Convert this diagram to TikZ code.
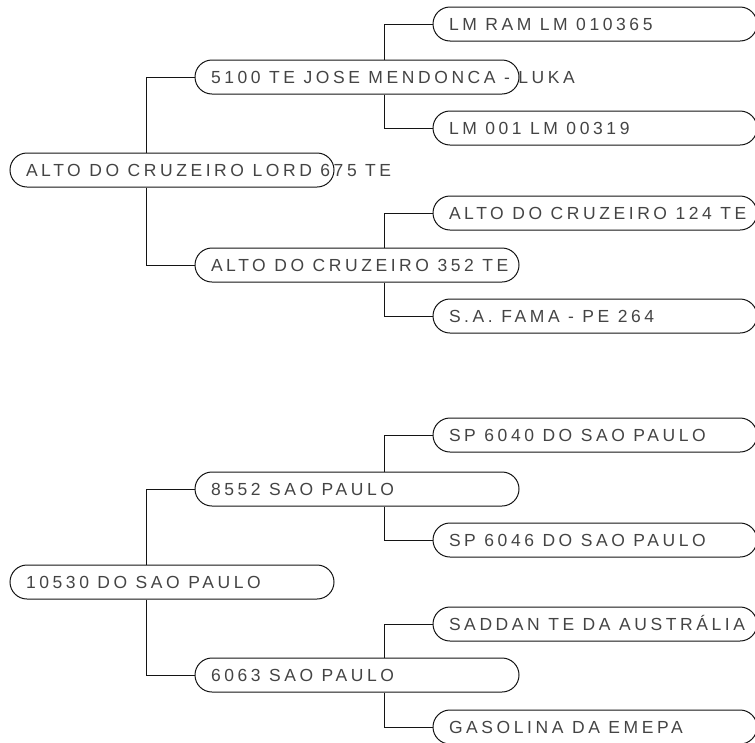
\documentclass[tikz,border=0pt]{standalone}
\usepackage{fontspec}
\setmainfont{Liberation Sans}
\newfontfamily\pedfont[LetterSpace=20.5]{Liberation Sans}
\usepackage{xcolor}
\usetikzlibrary{positioning}
\definecolor{pedtext}{RGB}{68,68,68}
\definecolor{pedline}{RGB}{20,20,20}
\newcommand{\pedname}[1]{\makebox[292pt][l]{#1}}

\begin{document}
\begin{tikzpicture}[x=1pt,y=-1pt,
  animal/.style={draw=pedline,line width=1pt,rounded corners=17pt,
    minimum width=324pt,minimum height=34pt,inner xsep=16pt,inner ysep=0pt,
    text height=12.5pt,text depth=0pt,text=pedtext,
    font=\pedfont\fontsize{17.5}{20}\selectfont},
  link/.style={draw=pedline,line width=1pt}]
\useasboundingbox (0,0) rectangle (755,742);
% first pedigree
\node[animal] (ra) at (172,170) {\pedname{ALTO DO CRUZEIRO LORD 675 TE}};
\node[animal] (ras) at (357,77) {\pedname{5100 TE JOSE MENDONCA - LUKA}};
\node[animal] (rad) at (357,265) {\pedname{ALTO DO CRUZEIRO 352 TE}};
\node[animal] (rass) at (595,24) {\pedname{LM RAM LM 010365}};
\node[animal] (rasd) at (595,128) {\pedname{LM 001 LM 00319}};
\node[animal] (rads) at (595,213) {\pedname{ALTO DO CRUZEIRO 124 TE}};
\node[animal] (radd) at (595,316) {\pedname{S.A. FAMA - PE 264}};
\draw[link] ([xshift=137pt]ra.north west) |- (ras.west);
\draw[link] ([xshift=137pt]ra.south west) |- (rad.west);
\draw[link] ([xshift=190pt]ras.north west) |- (rass.west);
\draw[link] ([xshift=190pt]ras.south west) |- (rasd.west);
\draw[link] ([xshift=190pt]rad.north west) |- (rads.west);
\draw[link] ([xshift=190pt]rad.south west) |- (radd.west);
% second pedigree
\node[animal] (rb) at (172,582) {\pedname{10530 DO SAO PAULO}};
\node[animal] (rbs) at (357,489) {\pedname{8552 SAO PAULO}};
\node[animal] (rbd) at (357,675) {\pedname{6063 SAO PAULO}};
\node[animal] (rbss) at (595,435) {\pedname{SP 6040 DO SAO PAULO}};
\node[animal] (rbsd) at (595,540) {\pedname{SP 6046 DO SAO PAULO}};
\node[animal] (rbds) at (595,624) {\pedname{SADDAN TE DA AUSTRÁLIA}};
\node[animal] (rbdd) at (595,727) {\pedname{GASOLINA DA EMEPA}};
\draw[link] ([xshift=137pt]rb.north west) |- (rbs.west);
\draw[link] ([xshift=137pt]rb.south west) |- (rbd.west);
\draw[link] ([xshift=190pt]rbs.north west) |- (rbss.west);
\draw[link] ([xshift=190pt]rbs.south west) |- (rbsd.west);
\draw[link] ([xshift=190pt]rbd.north west) |- (rbds.west);
\draw[link] ([xshift=190pt]rbd.south west) |- (rbdd.west);
\end{tikzpicture}
\end{document}
